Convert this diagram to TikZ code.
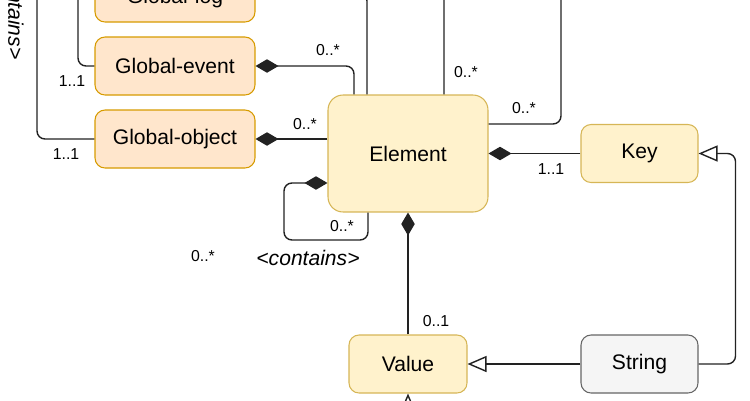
\documentclass[tikz,border=0pt]{standalone}
\usepackage{fontspec}
\setmainfont{Liberation Sans}
\usetikzlibrary{arrows.meta}

\definecolor{orgfill}{HTML}{FFE6CC}
\definecolor{orgline}{HTML}{D79B00}
\definecolor{yelfill}{HTML}{FFF2CC}
\definecolor{yelline}{HTML}{D6B656}
\definecolor{grayfill}{HTML}{F5F5F5}
\definecolor{grayline}{HTML}{666666}
\definecolor{wirecol}{HTML}{222222}

\begin{document}
\begin{tikzpicture}[x=0.02cm, y=-0.02cm,
	box/.style={draw, rounded corners=0.2cm, line width=0.6pt, minimum width=3.2cm,
		minimum height=1.16cm, inner sep=0pt, font=\fontsize{12}{14}\selectfont},
	globalbox/.style={box, fill=orgfill, draw=orgline},
	classbox/.style={box, fill=yelfill, draw=yelline},
	basebox/.style={box, fill=grayfill, draw=grayline},
	wire/.style={draw=wirecol, line width=0.8pt, rounded corners=0.16cm},
	comp/.style={wire, -{Diamond[length=0.46cm, width=0.27cm]}},
	gen/.style={wire, -{Triangle[open, fill=white, length=0.38cm, width=0.32cm]}},
	mult/.style={inner sep=0pt, font=\fontsize{9}{10}\selectfont},
	role/.style={inner sep=0pt, font=\itshape\fontsize{12}{14}\selectfont}]
	
	\useasboundingbox (0,0) rectangle (750,400);
	\clip (0,0) rectangle (750,400);
	
	% --- Classes ---
	\node[globalbox, minimum height=0.96cm] (glog) at (175,-2) {Global-log};
	\node[globalbox] (gevt) at (175,66)  {Global-event};
	\node[globalbox] (gobj) at (175,139) {Global-object};
	
	\node[classbox, minimum height=2.34cm, rounded corners=0.3cm] (ele) at (408,153.5) {Element};
	\node[classbox, minimum width=2.34cm] (key) at (639.5,153.5) {Key};
	\node[classbox, minimum width=2.36cm] (val) at (408,364) {Value};
	\node[basebox,  minimum width=2.34cm] (str) at (639.5,364) {String};
	
	% --- Free ends (outside the view) ---
	\coordinate (topA) at (444,-20);
	\coordinate (topB) at (561,-20);
	\coordinate (topC) at (78,-20);
	\coordinate (topD) at (37,-20);
	\coordinate (botV) at (408,420);
	\coordinate (loopSW) at (284,240);
	
	% --- Compositions ---
	\draw[comp] ([xshift=-0.82cm]ele.north) |- ([yshift=0.1cm]glog.east);
	\draw[comp] ([xshift=-1.08cm]ele.north) |- (gevt.east);
	\draw[comp] (gobj.east -| ele.west) -- (gobj.east);
	\draw[comp] ([xshift=-0.8cm]ele.south) |- (loopSW) |- ([yshift=-0.59cm]ele.west);
	\draw[comp] (key) -- (ele);
	\draw[comp] (val) -- (ele);
	
	% --- Plain links ---
	\draw[wire] ([xshift=0.72cm]ele.north) -- (topA);
	\draw[wire] ([yshift=0.59cm]ele.east) -| (topB);
	\draw[wire] (gevt.west) -| (topC);
	\draw[wire] (gobj.west) -| (topD);
	
	% --- Generalisations ---
	\draw[gen] (str) -- (val);
	\draw[gen] (str.east) -| ([xshift=0.74cm]key.east) -- (key.east);
	\draw[gen] (botV) -- (val.south);
	
	% --- Multiplicities ---
	\node[mult] (mEvt)  at (328,50)  {0..*};
	\node[mult] (mObj)  at (305,124) {0..*};
	\node[mult] (mLoop) at (342,226) {0..*};
	\node[mult] (mTop)  at (466,72)  {0..*};
	\node[mult] (mRgt)  at (524,108) {0..*};
	\node[mult] (mKey)  at (551,169) {1..1};
	\node[mult] (mVal)  at (436,321) {0..1};
	\node[mult] (mEvtL) at (72,81)   {1..1};
	\node[mult] (mObjL) at (66,154)  {1..1};
	\node[mult] (mFree) at (203,256) {0..*};
	
	% --- Roles ---
	\node[role] (rLoop) at (308,258) {<contains>};
	\node[role, rotate=-90] (rLeft) at (16,8) {<contains>};
	
\end{tikzpicture}
\end{document}
